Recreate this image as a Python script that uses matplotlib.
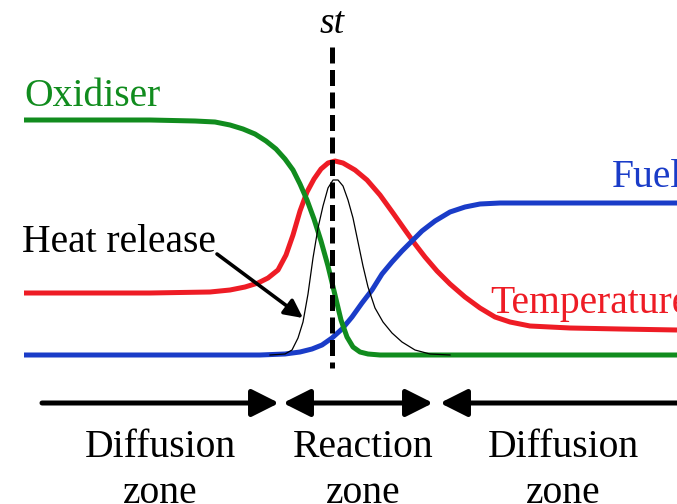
import matplotlib
matplotlib.use("Agg")
import matplotlib.pyplot as plt
from matplotlib.patches import FancyArrowPatch

# ---- data (figure pixel coordinates, y measured downward) ----
ox_x = [24, 150, 195, 215, 230, 243, 255, 266, 276, 285, 293, 300, 307, 314, 321, 328, 335, 341, 347, 353, 360, 368, 380, 420, 677]
ox_y = [120, 120, 121, 122, 125, 129, 134, 141, 149, 159, 170, 184, 200, 219, 241, 266, 295, 320, 337, 347, 352, 354, 355, 355, 355]

temp_x = [24, 150, 210, 230, 245, 258, 268, 278, 286, 293, 300, 307, 314, 321, 328, 335, 343, 355, 367, 380, 393, 405, 415, 425, 437, 450, 465, 480, 495, 510, 530, 570, 620, 677]
temp_y = [293, 293, 292, 290, 287, 283, 278, 270, 255, 235, 211, 192, 179, 169, 163, 161, 163, 170, 180, 195, 213, 230, 244, 257, 271, 284, 297, 308, 317, 322, 326, 328, 329, 330]

fuel_x = [24, 200, 260, 285, 300, 312, 322, 332, 342, 352, 362, 372, 382, 392, 402, 412, 422, 435, 450, 465, 480, 500, 550, 677]
fuel_y = [355, 355, 355, 354, 352, 349, 345, 338, 329, 317, 303, 290, 274, 262, 251, 241, 231, 221, 212, 207, 204, 203, 203, 203]

heat_x = [270, 285, 292, 298, 303, 308, 313, 318, 323, 328, 333, 338, 343, 348, 353, 358, 363, 368, 375, 383, 392, 402, 415, 430, 450]
heat_y = [355, 354, 350, 338, 322, 294, 258, 228, 206, 188, 180, 180, 186, 200, 218, 242, 266, 287, 308, 322, 333, 342, 350, 354, 355]

st_x = 332
zone_edges = [42, 280, 436, 677]
zone_labels = ["Diffusion\nzone", "Reaction\nzone", "Diffusion\nzone"]
zone_centers = [160, 363, 563]

GREEN = "#118c1e"
RED = "#ee1c25"
BLUE = "#1a3cc8"

plt.rcParams['font.family'] = ['Liberation Serif', 'DejaVu Serif']

fig = plt.figure(figsize=(6.77, 5.04), dpi=100)
ax = fig.add_axes([0, 0, 1, 1])
ax.set_xlim(0, 677)
ax.set_ylim(504, 0)
ax.axis('off')

ax.plot(temp_x, temp_y, color=RED, lw=3.6, solid_capstyle='butt', solid_joinstyle='round', zorder=2)
ax.plot(fuel_x, fuel_y, color=BLUE, lw=3.6, solid_capstyle='butt', solid_joinstyle='round', zorder=3)
ax.plot(ox_x, ox_y, color=GREEN, lw=3.6, solid_capstyle='butt', solid_joinstyle='round', zorder=3)
ax.plot(heat_x, heat_y, color='black', lw=0.9, zorder=4)

# stoichiometric dashed line
ax.plot([st_x, st_x], [47, 368], color='black', lw=3.6, dashes=(3.2, 1.3), zorder=5)
ax.text(st_x, 33, "st", fontsize=27, style='italic', ha='center', va='baseline')

fs = 28.5
ax.text(24, 106, "Oxidiser", color=GREEN, fontsize=fs, va='baseline', ha='left')
ax.text(612, 187, "Fuel", color=BLUE, fontsize=fs, va='baseline', ha='left')
ax.text(490, 313, "Temperature", color=RED, fontsize=fs, va='baseline', ha='left')
ax.text(22, 252, "Heat release", color='black', fontsize=fs, va='baseline', ha='left')

# heat release pointer
ax.add_patch(FancyArrowPatch((217, 254), (303, 318), arrowstyle='-|>,head_length=11,head_width=5.5',
                             mutation_scale=1, lw=2.6, color='black', shrinkA=0, shrinkB=0, zorder=6))

# zone arrows
y_arr = 403
hs = '-|>,head_length=16.5,head_width=8.3'
hs2 = '<|-|>,head_length=16.5,head_width=8.3'
ax.add_patch(FancyArrowPatch((zone_edges[0], y_arr), (zone_edges[1] - 1, y_arr), arrowstyle=hs,
                             mutation_scale=1, lw=3.6, color='black', shrinkA=0, shrinkB=0))
ax.add_patch(FancyArrowPatch((zone_edges[1] + 3, y_arr), (zone_edges[2] - 3, y_arr), arrowstyle=hs2,
                             mutation_scale=1, lw=3.6, color='black', shrinkA=0, shrinkB=0))
ax.add_patch(FancyArrowPatch((zone_edges[3], y_arr), (zone_edges[2] + 4, y_arr), arrowstyle=hs,
                             mutation_scale=1, lw=3.6, color='black', shrinkA=0, shrinkB=0))

for cx, lab in zip(zone_centers, zone_labels):
    l1, l2 = lab.split("\n")
    ax.text(cx, 457, l1, fontsize=fs, ha='center', va='baseline')
    ax.text(cx, 503, l2, fontsize=fs, ha='center', va='baseline')

fig.savefig("out.png", dpi=100)
